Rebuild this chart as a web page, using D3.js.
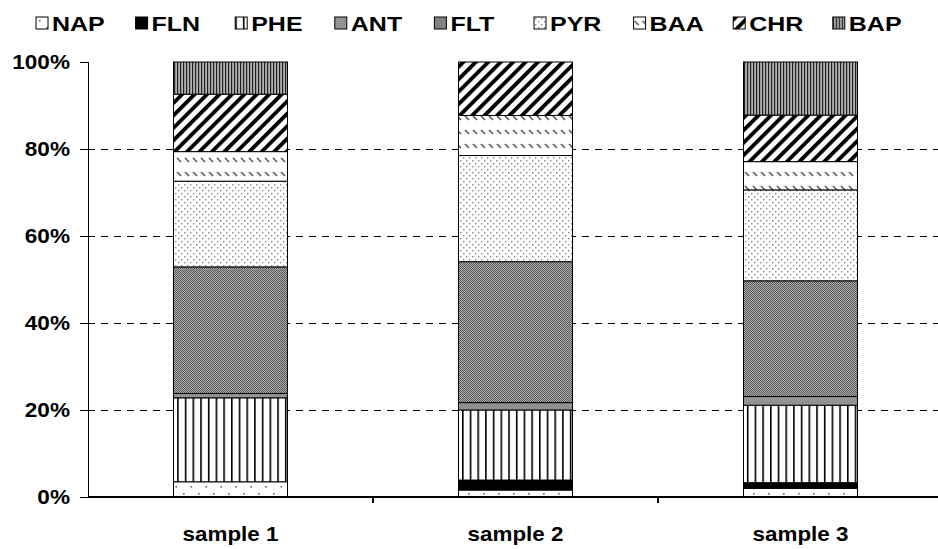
<!DOCTYPE html>
<html lang="en">
<head>
<meta charset="UTF-8">
<title>PAH composition by sample</title>
<script src="https://d3js.org/d3.v7.min.js"></script>
<style>
    body { margin: 0; background: #fff; }
    svg { display: block; }
    text { font-family: 'Liberation Sans', Arial, sans-serif; font-weight: bold; fill: #000; }
    .crisp line, .crisp path { shape-rendering: crispEdges; }
</style>
</head>
<body>
<script>
// categories and compound keys
var samples = ['sample 1', 'sample 2', 'sample 3'];
var compounds = ['NAP', 'FLN', 'PHE', 'ANT', 'FLT', 'PYR', 'BAA', 'CHR', 'BAP'];

// share of each compound (percent), one value per sample
var NAP = [3.5, 1.6, 2.0];
var FLN = [0.0, 2.3, 1.3];
var PHE = [19.3, 16.1, 17.8];
var ANT = [1.0, 1.7, 2.0];
var FLT = [29.1, 32.4, 26.6];
var PYR = [19.7, 24.4, 20.9];
var BAA = [6.8, 9.2, 6.5];
var CHR = [13.2, 12.3, 10.7];
var BAP = [7.4, 0.0, 12.2];

var yTicks = [0, 0.2, 0.4, 0.6, 0.8, 1.0];
var gridTicks = [0.2, 0.4, 0.6, 0.8];

var series = { NAP: NAP, FLN: FLN, PHE: PHE, ANT: ANT, FLT: FLT, PYR: PYR, BAA: BAA, CHR: CHR, BAP: BAP };
var table = samples.map(function(s, i) {
    var row = { sample: s };
    compounds.forEach(function(c) { row[c] = series[c][i] / 100; });
    return row;
});

var width = 938, height = 549;
var plotLeft = 88, plotRight = 943, plotTop = 62, plotBottom = 497;

var svg = d3.select('body').append('svg')
    .attr('width', width)
    .attr('height', height);

// fill patterns, in the spirit of the old spreadsheet hatches
var defs = svg.append('defs');

function pattern(id, w, h) {
    return defs.append('pattern')
        .attr('id', id)
        .attr('patternUnits', 'userSpaceOnUse')
        .attr('width', w)
        .attr('height', h);
}

var p = pattern('p-NAP', 15, 14);
p.append('rect').attr('width', 15).attr('height', 14).attr('fill', '#fff');
p.append('rect').attr('x', 3).attr('y', 3).attr('width', 1.6).attr('height', 1.6).attr('fill', '#666');
p.append('rect').attr('x', 10.5).attr('y', 10).attr('width', 1.6).attr('height', 1.6).attr('fill', '#666');

p = pattern('p-FLN', 4, 4);
p.append('rect').attr('width', 4).attr('height', 4).attr('fill', '#000');

p = pattern('p-PHE', 7.7, 10);
p.append('rect').attr('width', 7.7).attr('height', 10).attr('fill', '#fff');
p.append('rect').attr('x', 0).attr('width', 1.6).attr('height', 10).attr('fill', '#000');

p = pattern('p-ANT', 4, 4);
p.append('rect').attr('width', 4).attr('height', 4).attr('fill', '#929292');

p = pattern('p-FLT', 2, 2);
p.append('rect').attr('width', 2).attr('height', 2).attr('fill', '#b0b0b0');
p.append('rect').attr('width', 1).attr('height', 1).attr('fill', '#555');
p.append('rect').attr('x', 1).attr('y', 1).attr('width', 1).attr('height', 1).attr('fill', '#555');

p = pattern('p-PYR', 6, 6);
p.append('rect').attr('width', 6).attr('height', 6).attr('fill', '#fff');
p.append('rect').attr('x', 1).attr('y', 1).attr('width', 1.4).attr('height', 1.4).attr('fill', '#888');
p.append('rect').attr('x', 4).attr('y', 4).attr('width', 1.4).attr('height', 1.4).attr('fill', '#888');

p = pattern('p-BAA', 8, 14);
p.append('rect').attr('width', 8).attr('height', 14).attr('fill', '#fff');
p.append('line').attr('x1', 1).attr('y1', 4).attr('x2', 5).attr('y2', 8)
    .attr('stroke', '#555').attr('stroke-width', 1.6);

p = pattern('p-CHR', 8.8, 8.8).attr('patternTransform', 'rotate(45)');
p.append('rect').attr('width', 8.8).attr('height', 8.8).attr('fill', '#fff');
p.append('rect').attr('width', 3.8).attr('height', 8.8).attr('fill', '#000');

p = pattern('p-BAP', 3, 4);
p.append('rect').attr('width', 3).attr('height', 4).attr('fill', '#b0b0b0');
p.append('rect').attr('width', 1.2).attr('height', 4).attr('fill', '#222');

// scales
var x = d3.scaleBand()
    .domain(samples)
    .range([plotLeft, plotRight])
    .paddingInner(0.6)
    .paddingOuter(0.3);

var y = d3.scaleLinear()
    .domain([0, 1])
    .range([plotBottom, plotTop]);

// dashed gridlines
svg.append('g')
    .attr('class', 'crisp')
    .selectAll('line')
    .data(gridTicks)
    .enter()
    .append('line')
    .attr('x1', plotLeft)
    .attr('x2', width)
    .attr('y1', d => y(d) + 0.5)
    .attr('y2', d => y(d) + 0.5)
    .attr('stroke', '#000')
    .attr('stroke-width', 1)
    .attr('stroke-dasharray', '7,6');

// stacked bars
var stacked = d3.stack().keys(compounds)(table);

svg.append('g')
    .selectAll('g')
    .data(stacked)
    .enter()
    .append('g')
    .attr('fill', d => 'url(#p-' + d.key + ')')
    .selectAll('rect')
    .data(d => d.filter(s => s[1] - s[0] > 0))
    .enter()
    .append('rect')
    .attr('x', d => x(d.data.sample))
    .attr('width', x.bandwidth())
    .attr('y', d => y(d[1]))
    .attr('height', d => y(d[0]) - y(d[1]))
    .attr('stroke', '#000')
    .attr('stroke-width', 1);

// y axis
var yAxis = d3.axisLeft(y)
    .tickValues(yTicks)
    .tickFormat(d3.format('.0%'))
    .tickSize(8)
    .tickPadding(10);

var gy = svg.append('g')
    .attr('class', 'crisp')
    .attr('transform', 'translate(' + plotLeft + ',0)')
    .call(yAxis);
gy.selectAll('path, line').attr('stroke', '#000').attr('stroke-width', 1.3);
gy.selectAll('text')
    .attr('font-size', 20)
    .attr('font-family', null)
    .attr('transform', 'scale(1.13,1)')
    .attr('x', -18 / 1.13);

// x baseline with ticks between categories
var gx = svg.append('g').attr('class', 'crisp');
gx.append('line')
    .attr('x1', plotLeft).attr('x2', width)
    .attr('y1', plotBottom).attr('y2', plotBottom)
    .attr('stroke', '#000').attr('stroke-width', 1.3);

var gap = x.step() - x.bandwidth();
gx.selectAll('line.tick')
    .data(samples.slice(1))
    .enter()
    .append('line')
    .attr('class', 'tick')
    .attr('x1', d => x(d) - gap / 2)
    .attr('x2', d => x(d) - gap / 2)
    .attr('y1', plotBottom)
    .attr('y2', plotBottom + 6)
    .attr('stroke', '#000').attr('stroke-width', 1.3);

svg.append('g')
    .selectAll('text')
    .data(samples)
    .enter()
    .append('text')
    .attr('transform', d => 'translate(' + (x(d) + x.bandwidth() / 2) + ',541) scale(1.12,1)')
    .attr('text-anchor', 'middle')
    .attr('font-size', 20)
    .text(d => d);

// legend
var legend = svg.append('g')
    .selectAll('g')
    .data(compounds)
    .enter()
    .append('g')
    .attr('transform', (d, i) => 'translate(' + (36 + i * 99.6) + ',17)');

legend.append('rect')
    .attr('width', 12)
    .attr('height', 12)
    .attr('fill', d => 'url(#p-' + d + ')')
    .attr('stroke', '#000')
    .attr('stroke-width', 1);

legend.append('text')
    .attr('transform', 'translate(16,13.5) scale(1.25,1)')
    .attr('font-size', 20)
    .text(d => d);
</script>
</body>
</html>
